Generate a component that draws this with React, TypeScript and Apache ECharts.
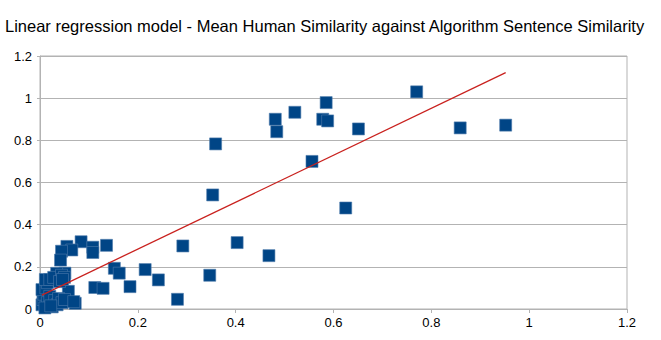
import React, { useEffect, useRef } from "react";
import * as echarts from "echarts";

const titleText = "Linear regression model - Mean Human Similarity against Algorithm Sentence Similarity";

const algorithmSimilarity = [
  0.770, 0.585, 0.521, 0.481, 0.578, 0.588, 0.484, 0.651, 0.859, 0.952,
  0.359, 0.556, 0.353, 0.625, 0.292, 0.403, 0.468, 0.347, 0.281,
  0.084, 0.136, 0.108, 0.108, 0.055, 0.065, 0.044, 0.042,
  0.152, 0.162, 0.215, 0.242, 0.184, 0.112, 0.129, 0.072, 0.058,
  0.051, 0.034, 0.014, 0.004, 0.006, 0.008, 0.004, 0.012, 0.015, 0.011,
  0.020, 0.028, 0.044, 0.050, 0.015, 0.020, 0.025, 0.030, 0.035,
  0.038, 0.045, 0.050, 0.040, 0.046, 0.069, 0.010, 0.022
];

const humanSimilarity = [
  1.030, 0.979, 0.933, 0.900, 0.900, 0.892, 0.841, 0.854, 0.859, 0.872,
  0.783, 0.700, 0.541, 0.479, 0.299, 0.315, 0.253, 0.160, 0.046,
  0.319, 0.302, 0.293, 0.268, 0.297, 0.280, 0.274, 0.232,
  0.193, 0.170, 0.187, 0.138, 0.106, 0.102, 0.098, 0.027, 0.084,
  0.170, 0.169, 0.132, 0.020, 0.045, 0.070, 0.092, 0.100, 0.125, 0.140,
  0.140, 0.150, 0.160, 0.150, 0.030, 0.060, 0.010, 0.040, 0.020,
  0.050, 0.030, 0.045, 0.130, 0.140, 0.035, 0.005, 0.015
];

const regressionX = [0.004, 0.952];
const regressionY = [0.066, 1.121];

const xTicks = [0, 0.2, 0.4, 0.6, 0.8, 1, 1.2];
const yTicks = [0, 0.2, 0.4, 0.6, 0.8, 1, 1.2];

export default function App() {
  const ref = useRef<HTMLDivElement>(null);
  useEffect(() => {
    if (!ref.current) return;
    document.body.style.margin = "0";
    const chart = echarts.init(ref.current, undefined, { renderer: "svg" });
    const points = algorithmSimilarity.map((x, i) => [x, humanSimilarity[i]]);
    const line = regressionX.map((x, i) => [x, regressionY[i]]);
    const labelStyle = {
      color: "#000000",
      fontFamily: "Liberation Sans",
      fontSize: 13,
    };
    chart.setOption({
      animation: false,
      backgroundColor: "#ffffff",
      title: {
        text: titleText,
        left: 0,
        top: 12,
        textStyle: {
          fontFamily: "Liberation Sans",
          fontSize: 16.5,
          fontWeight: "normal",
          color: "#000000",
        },
      },
      grid: {
        left: 40,
        right: 34,
        top: 56,
        bottom: 31,
        show: true,
        borderColor: "#b3b3b3",
        borderWidth: 1,
      },
      xAxis: {
        type: "value",
        min: xTicks[0],
        max: xTicks[xTicks.length - 1],
        interval: 0.2,
        splitLine: { show: false },
        axisLine: { show: true, lineStyle: { color: "#b3b3b3" } },
        axisTick: { show: true, length: 4, lineStyle: { color: "#b3b3b3" } },
        axisLabel: {
          ...labelStyle,
          margin: 7,
          formatter: (v: number) => String(Math.round(v * 10) / 10),
        },
      },
      yAxis: {
        type: "value",
        min: yTicks[0],
        max: yTicks[yTicks.length - 1],
        interval: 0.2,
        splitLine: { show: true, lineStyle: { color: "#b3b3b3" } },
        axisLine: { show: true, lineStyle: { color: "#b3b3b3" } },
        axisTick: { show: true, length: 3, lineStyle: { color: "#b3b3b3" } },
        axisLabel: {
          ...labelStyle,
          margin: 8,
          formatter: (v: number) => String(Math.round(v * 10) / 10),
        },
      },
      series: [
        {
          type: "scatter",
          data: points,
          symbol: "rect",
          symbolSize: 12,
          itemStyle: {
            color: "#004586",
            opacity: 1,
            borderColor: "#4d7bab",
            borderWidth: 0.6,
          },
          z: 2,
        },
        {
          type: "line",
          data: line,
          symbol: "none",
          lineStyle: { color: "#c9211e", width: 1.3 },
          z: 3,
        },
      ],
    });
    return () => chart.dispose();
  }, []);
  return <div ref={ref} style={{ width: 661, height: 340 }} />;
}
